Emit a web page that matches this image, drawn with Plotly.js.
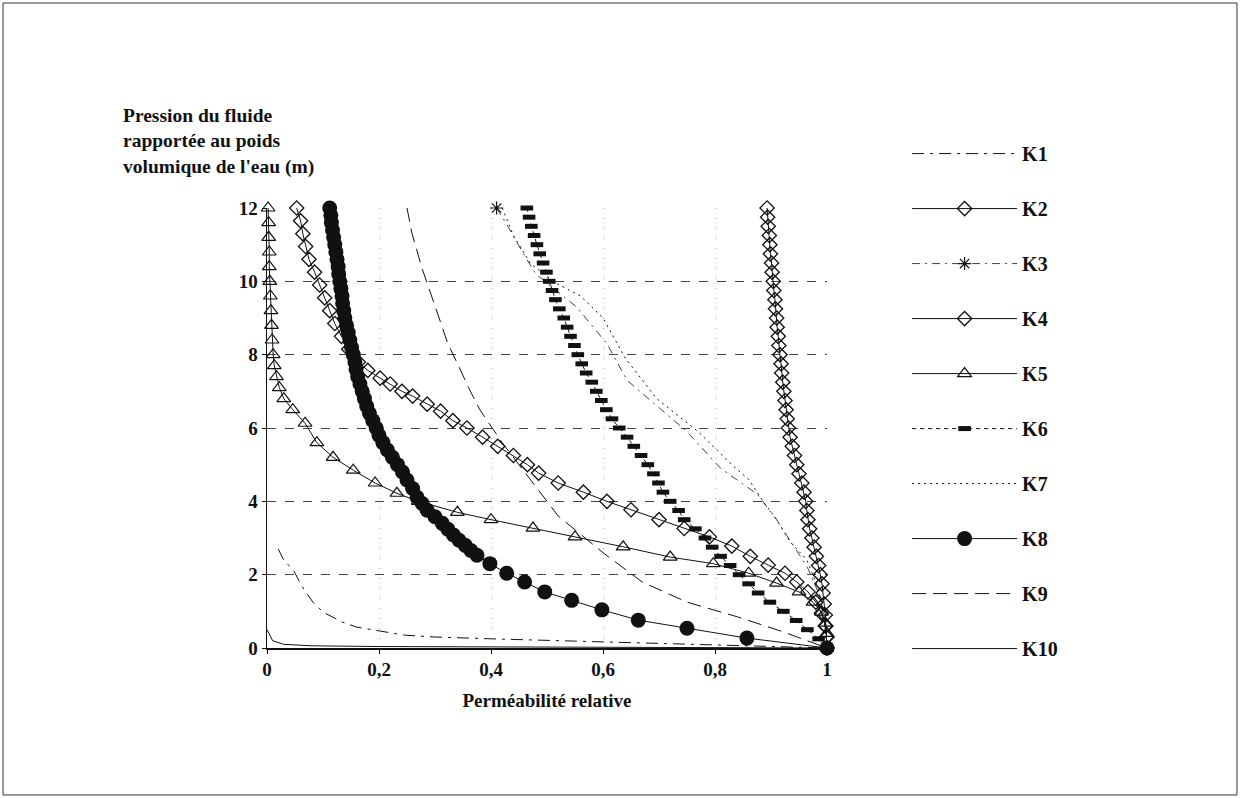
<!DOCTYPE html>
<html>
<head>
<meta charset="utf-8">
<script src="https://cdn.plot.ly/plotly-3.0.1.min.js"></script>
<style>html,body{margin:0;padding:0;background:#fff;}#chart{width:1240px;height:798px;}</style>
</head>
<body>
<div id="chart"></div>
<script>
// ---- data ----
const seriesNames = ["K1","K2","K3","K4","K5","K6","K7","K8","K9","K10"];

const k1x = [0.02,0.03,0.048,0.063,0.082,0.10,0.134,0.16,0.246,0.30,0.40,0.50,0.60,0.70,0.80,0.90,1.0];
const k1y = [2.7,2.4,2.1,1.67,1.25,0.98,0.71,0.57,0.35,0.30,0.25,0.21,0.17,0.14,0.10,0.06,0];

const k2x = [0.053,0.06,0.064,0.069,0.075,0.085,0.094,0.103,0.112,0.121,0.133,0.146,0.163,0.18,0.202,0.22,0.241,0.26,0.286,0.31,0.332,0.357,0.385,0.412,0.44,0.465,0.485,0.52,0.565,0.607,0.65,0.70,0.745,0.79,0.83,0.863,0.895,0.925,0.946,0.966,0.98,0.99,0.997,1.0,1.0];
const k2y = [12,11.65,11.3,10.95,10.6,10.25,9.9,9.55,9.2,8.85,8.5,8.15,7.8,7.57,7.36,7.2,7.0,6.87,6.65,6.46,6.2,6.0,5.75,5.5,5.25,5.0,4.77,4.5,4.25,4.0,3.77,3.5,3.26,3.03,2.78,2.5,2.26,2.04,1.8,1.53,1.25,0.95,0.6,0.3,0];

const k3x = [0.41,0.43,0.46,0.48,0.553,0.607,0.643,0.696,0.75,0.81,0.875,0.91,0.94,0.965,0.985,0.995,1.0];
const k3y = [12,11.5,10.7,10.2,9.3,8.3,7.3,6.6,5.9,4.9,4.2,3.5,2.8,2.2,1.5,0.8,0];

const k4y = [12,11.75,11.5,11.25,11,10.75,10.5,10.25,10,9.75,9.5,9.25,9,8.75,8.5,8.25,8,7.75,7.5,7.25,7,6.75,6.5,6.25,6,5.75,5.5,5.25,5,4.75,4.5,4.25,4,3.75,3.5,3.25,3,2.75,2.5,2.25,2,1.75,1.5,1.2,0.9,0.6,0.3,0];
const k4x = [0.893,0.894,0.895,0.897,0.898,0.899,0.901,0.902,0.904,0.905,0.907,0.908,0.910,0.911,0.913,0.914,0.916,0.918,0.919,0.921,0.923,0.925,0.927,0.929,0.931,0.934,0.938,0.942,0.946,0.950,0.955,0.959,0.962,0.964,0.966,0.969,0.973,0.977,0.981,0.985,0.988,0.991,0.993,0.995,0.997,0.998,0.999,1.0];

const k5x = [0.002,0.003,0.003,0.004,0.004,0.005,0.006,0.007,0.008,0.009,0.011,0.013,0.017,0.022,0.03,0.046,0.068,0.089,0.118,0.154,0.193,0.232,0.27,0.34,0.40,0.475,0.55,0.636,0.72,0.797,0.86,0.91,0.95,0.975,0.99,0.997,1.0,1.0];
const k5y = [12,11.6,11.2,10.8,10.4,10.0,9.6,9.2,8.8,8.4,8.0,7.7,7.4,7.1,6.8,6.5,6.13,5.6,5.2,4.85,4.5,4.22,4.0,3.7,3.5,3.27,3.03,2.76,2.48,2.3,2.04,1.77,1.53,1.25,0.98,0.68,0.4,0];

const k6y = [12,11.75,11.5,11.25,11,10.75,10.5,10.25,10,9.75,9.5,9.25,9,8.75,8.5,8.25,8,7.75,7.5,7.25,7,6.75,6.5,6.25,6,5.75,5.5,5.25,5,4.75,4.5,4.25,4,3.75,3.5,3.25,3,2.75,2.5,2.25,2,1.75,1.5,1.25,1,0.75,0.5,0.25,0];
const k6x = [0.464,0.468,0.472,0.477,0.482,0.487,0.493,0.499,0.504,0.509,0.515,0.522,0.53,0.536,0.542,0.549,0.555,0.562,0.57,0.58,0.588,0.597,0.606,0.616,0.629,0.643,0.655,0.668,0.68,0.69,0.699,0.707,0.72,0.735,0.745,0.765,0.782,0.795,0.81,0.827,0.843,0.86,0.877,0.898,0.922,0.945,0.965,0.985,1.0];

const k7x = [0.42,0.44,0.47,0.51,0.56,0.60,0.64,0.696,0.77,0.83,0.86,0.886,0.91,0.934,0.964,0.985,0.995,1.0];
const k7y = [12,11.25,10.5,10.0,9.6,9.0,7.9,6.8,5.9,5.0,4.6,4.0,3.5,2.9,2.4,1.6,0.8,0];

const k8y = [12,11.8,11.6,11.4,11.2,11.0,10.8,10.6,10.4,10.2,10.0,9.8,9.6,9.4,9.2,9.0,8.8,8.6,8.4,8.2,8.0,7.8,7.6,7.4,7.2,7.0,6.8,6.6,6.4,6.2,6.0,5.8,5.6,5.4,5.2,5.0,4.8,4.58,4.35,4.11,3.94,3.76,3.58,3.4,3.24,3.08,2.94,2.8,2.66,2.53,2.3,2.04,1.8,1.53,1.3,1.04,0.76,0.54,0.27,0];
const k8x = [0.112,0.114,0.115,0.117,0.119,0.121,0.123,0.125,0.127,0.128,0.13,0.132,0.134,0.135,0.137,0.139,0.142,0.145,0.148,0.151,0.154,0.157,0.159,0.162,0.166,0.17,0.174,0.178,0.183,0.189,0.195,0.2,0.207,0.215,0.224,0.233,0.242,0.25,0.26,0.268,0.277,0.286,0.3,0.313,0.323,0.333,0.343,0.354,0.364,0.375,0.398,0.428,0.46,0.496,0.544,0.598,0.663,0.75,0.857,1.0];

const k9x = [0.25,0.259,0.277,0.30,0.323,0.34,0.36,0.38,0.42,0.46,0.49,0.52,0.60,0.67,0.75,0.84,0.92,1.0];
const k9y = [12,11.3,10.35,9.3,8.3,7.76,7.1,6.5,5.6,4.8,4.2,3.6,2.6,1.8,1.25,0.85,0.45,0];

const k10x = [0,0.01,0.03,0.08,0.2,0.4,0.6,0.8,1.0];
const k10y = [0.5,0.2,0.1,0.06,0.04,0.03,0.02,0.01,0];

const xTickVals = [0,0.2,0.4,0.6,0.8,1];
const yTickVals = [0,2,4,6,8,10,12];
const yTitleLines = ["Pression du fluide","rapportée au poids","volumique de l'eau (m)"];
const xTitle = "Perméabilité relative";

// ---- styling ----
const FONT = "Liberation Serif, Times New Roman, serif";
const INK = "#111";

function tr(i, x, y, line, marker, mode){
  const t = {
    type: "scatter", x: x, y: y, name: seriesNames[i],
    legendgroup: "g" + i, mode: mode || "lines",
    line: Object.assign({color: INK, width: 1}, line),
    cliponaxis: false
  };
  if (marker) t.marker = marker;
  return t;
}

const data = [
  tr(0, k1x, k1y, {dash: "12px,6px,3px,6px"}),
  tr(1, k2x, k2y, {}, {symbol: "diamond-open", size: 11, color: INK, line: {width: 1.3, color: INK}}, "lines+markers"),
  Object.assign(
    tr(2, k3x, k3y, {dash: "8px,5px,2px,5px", width: 0.8}, {symbol: "asterisk-open", size: 11, color: INK, line: {width: 1.2, color: INK}}, "lines+markers"),
    {selectedpoints: [0], selected: {marker: {opacity: 1}}, unselected: {marker: {opacity: 0}}}
  ),
  tr(3, k4x, k4y, {}, {symbol: "diamond-open", size: 11, color: INK, line: {width: 1.3, color: INK}}, "lines+markers"),
  tr(4, k5x, k5y, {}, {symbol: "triangle-up-open", size: 12, color: INK, line: {width: 1.2, color: INK}}, "lines+markers"),
  tr(5, k6x, k6y, {dash: "4px,4px"}, {symbol: "line-ew", size: 9, color: INK, line: {width: 5, color: INK}}, "lines+markers"),
  tr(6, k7x, k7y, {dash: "2px,4px", width: 1}),
  tr(7, k8x, k8y, {}, {symbol: "circle", size: 15, color: INK, line: {width: 0}}, "lines+markers"),
  tr(8, k9x, k9y, {dash: "14px,7px"}),
  tr(9, k10x, k10y, {})
];

const layout = {
  width: 1240, height: 798,
  paper_bgcolor: "#fff", plot_bgcolor: "#fff",
  separators: ", ",
  margin: {l: 267, r: 413, t: 208, b: 150, autoexpand: false},
  font: {family: FONT, color: INK, size: 18},
  showlegend: true,
  legend: {
    x: 1.143, y: 1.168, xanchor: "left", yanchor: "top",
    font: {family: FONT, size: 20, weight: "bold", color: INK},
    tracegroupgap: 26, itemwidth: 105, itemsizing: "trace",
    maxheight: 1,
    bgcolor: "rgba(0,0,0,0)"
  },
  xaxis: {
    range: [0, 1], tickvals: xTickVals, ticks: "outside", ticklen: 4, tickcolor: INK,
    showline: true, linecolor: INK, linewidth: 1.5, zeroline: false,
    showgrid: true, gridcolor: "#aaa", griddash: "1px,9px", gridwidth: 1,
    tickfont: {family: FONT, size: 19, weight: "bold", color: INK},
    title: {text: xTitle, standoff: 14, font: {family: FONT, size: 19, weight: "bold", color: INK}}
  },
  yaxis: {
    range: [0, 12], tickvals: yTickVals, ticks: "outside", ticklen: 4, tickcolor: INK,
    showline: true, linecolor: INK, linewidth: 1.5, zeroline: false,
    showgrid: true, gridcolor: "#444", griddash: "9px,9px", gridwidth: 1,
    tickfont: {family: FONT, size: 19, weight: "bold", color: INK}
  },
  annotations: [{
    xref: "paper", yref: "paper", x: -0.261, y: 1.2386, xanchor: "left", yanchor: "top",
    align: "left", showarrow: false,
    text: yTitleLines.join("<br>"),
    font: {family: FONT, size: 19.5, weight: "bold", color: INK}
  }],
  shapes: [{
    type: "rect", xref: "paper", yref: "paper",
    x0: -0.4714, x1: 1.7321, y0: -0.334, y1: 1.4659,
    line: {color: "#333", width: 1}
  }]
};

Plotly.newPlot("chart", data, layout, {displayModeBar: false, staticPlot: true});
</script>
</body>
</html>
